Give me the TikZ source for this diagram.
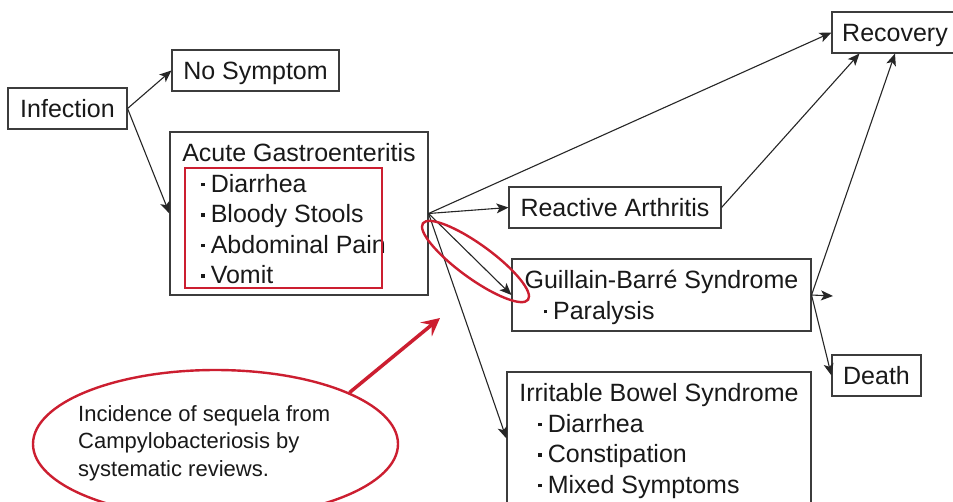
\documentclass[tikz,border=0pt]{standalone}
\usepackage{fontspec}
\setmainfont{Liberation Sans}
\usepackage{xcolor}
\usepackage{tikz}
\usetikzlibrary{arrows.meta,positioning,calc,shapes.geometric}
\definecolor{markred}{RGB}{204,30,48}
\definecolor{boxline}{RGB}{60,60,60}
\newcommand{\itm}{\hspace*{19pt}\rule[6pt]{3.5pt}{3.5pt}\hspace{6pt}}

\begin{document}
\begin{tikzpicture}[x=1pt,y=-1pt,font=\fontsize{25}{30.5}\selectfont,
  box/.style={draw=boxline,line width=1.1pt,inner sep=0pt,text=black!90,text depth=0pt},
  link/.style={-{Stealth[length=12pt,width=10pt,inset=3pt]},line width=1.1pt,black!85},
  redline/.style={draw=markred,line width=2.4pt,inner sep=0pt}]
\useasboundingbox (0,0) rectangle (953,501);
\clip (0,0) rectangle (953,501);
\fill[white] (0,0) rectangle (953,501);

\node[box,minimum width=119pt,minimum height=41pt] (inf) at (67.5,108.5) {Infection};
\node[box,minimum width=167pt,minimum height=41pt] (nosym) at (255.5,70.5) {No Symptom};
\node[box,minimum width=258pt,minimum height=163pt,align=left] (ag) at (299,213.5)
  {Acute Gastroenteritis\\\itm Diarrhea\\\itm Bloody Stools\\\itm Abdominal Pain\\\itm Vomit};
\node[redline,minimum width=197pt,minimum height=120pt] (symframe) at (283.5,228) {};

\node[box,minimum width=126pt,minimum height=41pt] (rec) at (895,32.5) {Recovery};
\node[box,minimum width=212pt,minimum height=41pt] (ra) at (615,207.5) {Reactive Arthritis};
\node[box,minimum width=299pt,minimum height=72pt,align=left] (gbs) at (661.5,295)
  {Guillain-Barré Syndrome\\\itm Paralysis};
\node[box,minimum width=89pt,minimum height=41pt] (death) at (876.5,375.5) {Death};
\node[box,minimum width=304pt,minimum height=133pt,align=left] (ibs) at (659,438.5)
  {Irritable Bowel Syndrome\\\itm Diarrhea\\\itm Constipation\\\itm Mixed Symptoms};

\draw[link] (inf.east) -- (nosym.west);
\draw[link] (inf.east) -- (ag.west);
\draw[link] (ag.east) -- (rec.west);
\draw[link] (ag.east) -- (ra.west);
\draw[link] (ag.east) -- (gbs.west);
\draw[link] (ag.east) -- (ibs.west);
\draw[link] (ra.east) -- ($(rec.south west)+(28,0)$);
\draw[link] (gbs.east) -- (rec.south);
\coordinate (gbsout) at (833,296);
\draw[link] (gbs.east) -- (gbsout);
\draw[link] (gbs.east) -- (death.west);

\node[redline,ellipse,rotate=-36,minimum width=130pt,minimum height=34pt] (gbsmark) at (475.5,261.5) {};

\node[redline,ellipse,minimum width=365pt,minimum height=148pt] (note) at (215.5,444) {};
\node[anchor=west,align=left,inner sep=0pt,text=black!90,font=\fontsize{22}{27.5}\selectfont] (notetext) at (78,443)
  {Incidence of sequela from\\Campylobacteriosis by\\systematic reviews.};
\coordinate (noteend) at (440,318);
\draw[markred,line width=3.5pt,-{Stealth[length=18pt,width=18pt,inset=7pt]}] (note.21) -- (noteend);
\end{tikzpicture}
\end{document}
